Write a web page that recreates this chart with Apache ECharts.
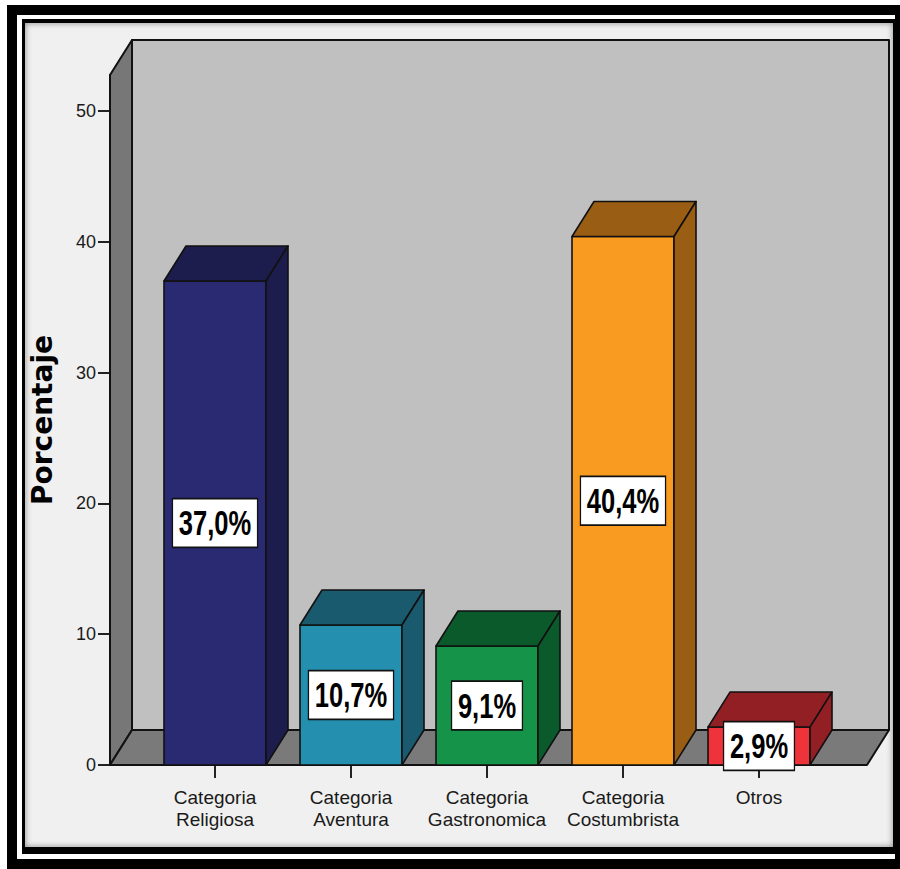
<!DOCTYPE html>
<html lang="es">
<head>
<meta charset="utf-8">
<title>Porcentaje por categoría</title>
<script src="https://cdn.jsdelivr.net/npm/echarts@6/dist/echarts.min.js"></script>
<style>
  html, body { margin: 0; padding: 0; background: #fff; }
  body { width: 900px; height: 869px; position: relative; overflow: hidden; }
  .frame { position: absolute; }
  #f1 { left: 7px; top: 5px; width: 893px; height: 864px; background: #000; }
  #f2 { left: 17px; top: 15px; width: 878px; height: 844px; background: #fff; }
  #f3 { left: 22px; top: 19px; width: 873px; height: 835px; background: #000; }
  #f4 { left: 25px; top: 23px; width: 868px; height: 824px; background: #f0f0f0;
        box-shadow: inset 0 0 6px rgba(0,0,0,0.45); }
  #chart { position: absolute; left: 0; top: 0; width: 900px; height: 869px; }
</style>
</head>
<body>
<div class="frame" id="f1"></div>
<div class="frame" id="f2"></div>
<div class="frame" id="f3"></div>
<div class="frame" id="f4"></div>
<div id="chart"></div>
<script>
// Categorías del eje X
const categories = [
  'Categoria\nReligiosa',
  'Categoria\nAventura',
  'Categoria\nGastronomica',
  'Categoria\nCostumbrista',
  'Otros'
];
// Porcentaje de cada categoría
const percentages = [37.0, 10.7, 9.1, 40.4, 2.9];
// Marcas del eje Y
const yTicks = [0, 10, 20, 30, 40, 50];
const yMax = 52.75;

// Colores: cara frontal y caras superior/lateral
const frontColors = ['#2a2a72', '#248fae', '#149349', '#f89b20', '#ef333b'];
const shadeColors = ['#1c1c4d', '#1a5a6f', '#0b5a2c', '#9a5d14', '#921f24'];

// Profundidad de la perspectiva 3D (px)
const DEPTH_X = 22;
const DEPTH_Y = -35;
const PAD_LEFT = 37;
const PAD_RIGHT = 40;
const SANS = '"Liberation Sans", Arial, sans-serif';

const chart = echarts.init(document.getElementById('chart'), null, { renderer: 'svg' });

// Paredes y suelo de la escena 3D
function renderScene(params, api) {
  const cs = params.coordSys;
  const y0 = api.coord([0, 0])[1];
  const yTop = cs.y;
  const xL = cs.x - PAD_LEFT;
  const xR = cs.x + cs.width + PAD_RIGHT;
  const line = { stroke: '#111', lineWidth: 2, lineJoin: 'round' };
  return {
    type: 'group',
    children: [
      { type: 'rect',
        shape: { x: xL + DEPTH_X, y: yTop + DEPTH_Y, width: xR - xL, height: y0 - yTop },
        style: Object.assign({ fill: '#c0c0c0' }, line) },
      { type: 'polygon',
        shape: { points: [[xL, yTop], [xL + DEPTH_X, yTop + DEPTH_Y], [xL + DEPTH_X, y0 + DEPTH_Y], [xL, y0]] },
        style: Object.assign({ fill: '#777777' }, line) },
      { type: 'polygon',
        shape: { points: [[xL, y0], [xR, y0], [xR + DEPTH_X, y0 + DEPTH_Y], [xL + DEPTH_X, y0 + DEPTH_Y]] },
        style: Object.assign({ fill: '#7a7a7a' }, line) }
    ]
  };
}

// Barra prismática con su etiqueta de porcentaje
function renderBar(params, api) {
  const i = api.value(0);
  const v = api.value(1);
  const base = api.coord([i, 0]);
  const top = api.coord([i, v]);
  const bw = api.size([1, 0])[0] * 0.75;
  const l = base[0] - bw / 2;
  const r = base[0] + bw / 2;
  const yt = top[1];
  const yb = base[1];
  const edge = { stroke: '#111', lineWidth: 1.6, lineJoin: 'round' };
  const label = v.toFixed(1).replace('.', ',') + '%';
  return {
    type: 'group',
    children: [
      { type: 'rect', shape: { x: l, y: yt, width: bw, height: yb - yt },
        style: Object.assign({ fill: frontColors[i] }, edge) },
      { type: 'polygon',
        shape: { points: [[l, yt], [l + DEPTH_X, yt + DEPTH_Y], [r + DEPTH_X, yt + DEPTH_Y], [r, yt]] },
        style: Object.assign({ fill: shadeColors[i] }, edge) },
      { type: 'polygon',
        shape: { points: [[r, yt], [r + DEPTH_X, yt + DEPTH_Y], [r + DEPTH_X, yb + DEPTH_Y], [r, yb]] },
        style: Object.assign({ fill: shadeColors[i] }, edge) },
      { type: 'text', x: base[0], y: (yt + yb) / 2, scaleX: 0.71,
        style: {
          text: label, font: 'bold 36px ' + SANS, fill: '#000',
          align: 'center', verticalAlign: 'middle',
          backgroundColor: '#fff', borderColor: '#111', borderWidth: 1.8,
          padding: [6, 8, 5, 8]
        } }
    ]
  };
}

chart.setOption({
  animation: false,
  grid: { left: 147, right: 73, top: 75, bottom: 104 },
  xAxis: {
    type: 'category',
    data: categories,
    axisLine: { show: false },
    axisTick: { show: true, alignWithLabel: true, length: 13, lineStyle: { color: '#222', width: 2 } },
    axisLabel: { interval: 0, margin: 21, fontFamily: SANS, fontSize: 19, lineHeight: 22, color: '#1a1a1a' },
    splitLine: { show: false }
  },
  yAxis: {
    type: 'value',
    min: 0,
    max: yMax,
    offset: PAD_LEFT,
    axisLine: { show: true, lineStyle: { color: '#111', width: 2 } },
    axisTick: { show: true, length: 12, customValues: yTicks, lineStyle: { color: '#222', width: 2 } },
    axisLabel: { customValues: yTicks, margin: 14, fontFamily: SANS, fontSize: 18, color: '#1a1a1a' },
    splitLine: { show: false },
    name: 'Porcentaje',
    nameLocation: 'middle',
    nameGap: 54,
    nameTextStyle: { fontFamily: '"DejaVu Sans", sans-serif', fontWeight: 'bold', fontSize: 28, color: '#000' }
  },
  series: [
    { type: 'custom', name: 'escena', z: 1, clip: false, silent: true,
      data: [[0, 0]], encode: { x: 0, y: 1 }, renderItem: renderScene },
    { type: 'custom', name: 'Porcentaje', z: 3, clip: false,
      data: percentages.map((v, i) => [i, v]), encode: { x: 0, y: 1 }, renderItem: renderBar }
  ]
});
</script>
</body>
</html>
